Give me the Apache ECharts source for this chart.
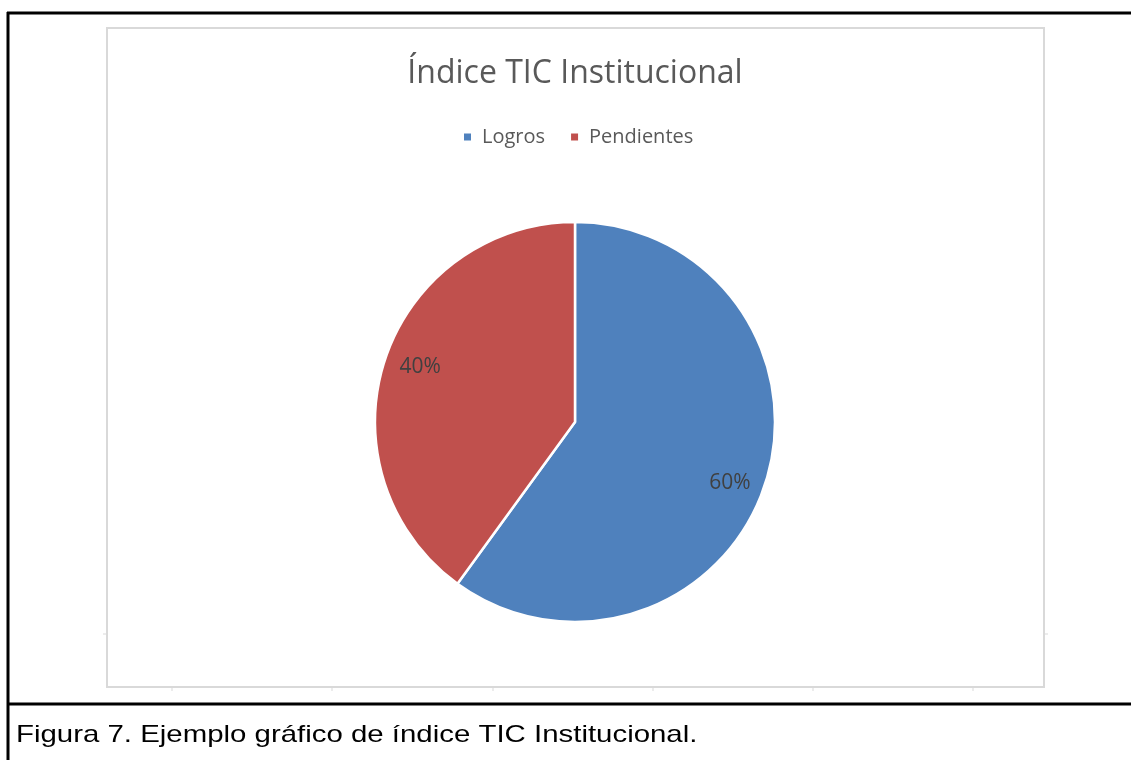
<!DOCTYPE html>
<html>
<head>
<meta charset="utf-8">
<script src="https://cdn.jsdelivr.net/npm/echarts@6/dist/echarts.min.js"></script>
<style>
  html, body { margin: 0; padding: 0; background: #ffffff; }
  #chart { width: 1131px; height: 760px; }
</style>
</head>
<body>
<div id="chart"></div>
<script>
// chart data
const categories = ['Logros', 'Pendientes'];
const values = [60, 40];
const colors = ['#4F81BD', '#C0504D'];

const titleText = 'Índice TIC Institucional';
const captionText = 'Figura 7. Ejemplo gráfico de índice TIC Institucional.';

// small nudges so the percentage labels sit where the spreadsheet put them
const labelNudge = [[-4, 9], [4, -3]];

const chart = echarts.init(document.getElementById('chart'));

const pieData = categories.map(function (name, i) {
    return { name: name, value: values[i], itemStyle: { color: colors[i] } };
});

// small gray ticks around the chart frame (leftover from the original spreadsheet chart)
const frameColor = '#D9D9D9';
const bottomTicks = [172, 332, 493, 653, 813, 973].map(function (x) {
    return { type: 'line', shape: { x1: x, y1: 687, x2: x, y2: 691 }, style: { stroke: frameColor, lineWidth: 1 }, silent: true };
});

const option = {
    backgroundColor: '#ffffff',
    title: {
        text: titleText,
        left: 575,
        top: 58,
        textAlign: 'center',
        padding: 0,
        textStyle: {
            fontFamily: 'Open Sans',
            fontWeight: 'normal',
            fontSize: 32,
            color: '#595959'
        }
    },
    legend: {
        data: categories,
        left: 462,
        top: 127,
        padding: 0,
        itemWidth: 9,
        itemHeight: 9,
        itemGap: 24,
        icon: 'rect',
        textStyle: {
            fontFamily: 'Open Sans',
            fontSize: 20,
            color: '#595959',
            padding: [0, 0, 0, 5]
        }
    },
    series: [
        {
            name: 'Índice TIC',
            type: 'pie',
            center: [575, 422],
            radius: [0, 200],
            startAngle: 90,
            clockwise: true,
            silent: true,
            itemStyle: { borderColor: '#ffffff', borderWidth: 2.5 },
            label: { show: false },
            labelLine: { show: false },
            data: pieData
        },
        {
            // transparent ring only used to place the percentage labels near the rim
            name: 'etiquetas',
            type: 'pie',
            center: [575, 422],
            radius: [128, 200],
            startAngle: 90,
            clockwise: true,
            silent: true,
            itemStyle: { color: 'rgba(0,0,0,0)', borderWidth: 0 },
            label: {
                show: true,
                position: 'inside',
                formatter: '{d}%',
                fontFamily: 'Open Sans',
                fontSize: 21,
                color: '#404040'
            },
            labelLine: { show: false },
            data: categories.map(function (name, i) {
                return { name: name, value: values[i], label: { offset: labelNudge[i] } };
            })
        }
    ],
    graphic: [
        // chart frame
        { type: 'rect', shape: { x: 107, y: 28, width: 937, height: 659 }, style: { fill: 'none', stroke: frameColor, lineWidth: 2 }, silent: true },
        { type: 'line', shape: { x1: 103, y1: 634, x2: 107, y2: 634 }, style: { stroke: frameColor, lineWidth: 1 }, silent: true },
        { type: 'line', shape: { x1: 1044, y1: 634, x2: 1048, y2: 634 }, style: { stroke: frameColor, lineWidth: 1 }, silent: true }
    ].concat(bottomTicks).concat([
        // document table lines
        { type: 'line', shape: { x1: 7, y1: 13, x2: 1131, y2: 13 }, style: { stroke: '#000000', lineWidth: 3 }, silent: true },
        { type: 'line', shape: { x1: 8, y1: 12, x2: 8, y2: 760 }, style: { stroke: '#000000', lineWidth: 3 }, silent: true },
        { type: 'line', shape: { x1: 7, y1: 704, x2: 1131, y2: 704 }, style: { stroke: '#000000', lineWidth: 3 }, silent: true },
        {
            type: 'text',
            x: 16,
            y: 735,
            scaleX: 1.225,
            silent: true,
            style: {
                text: captionText,
                fontFamily: 'Liberation Sans',
                fontSize: 24,
                fill: '#000000',
                textVerticalAlign: 'middle'
            }
        }
    ])
};

chart.setOption(option);
</script>
</body>
</html>
